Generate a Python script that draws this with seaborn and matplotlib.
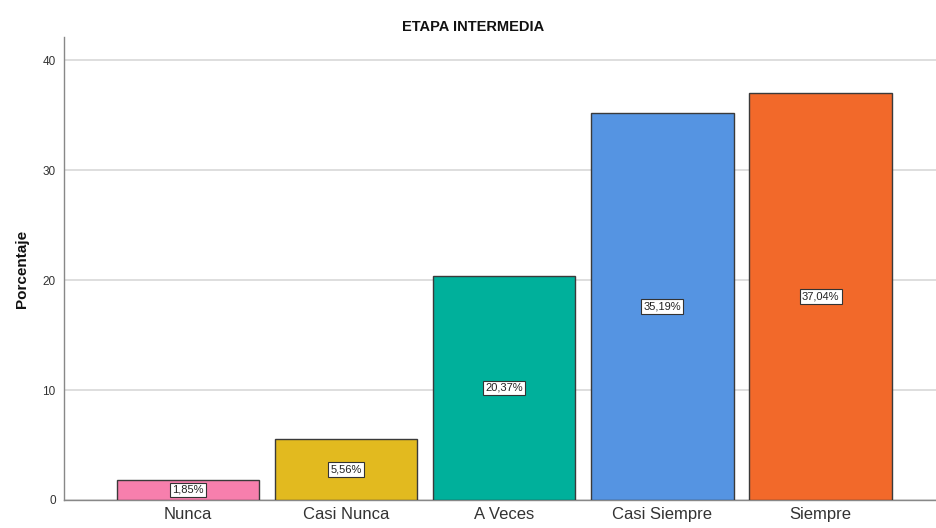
import matplotlib
matplotlib.use('Agg')
import matplotlib.pyplot as plt
import seaborn as sns
import pandas as pd

# ── Datos ─────────────────────────────────────────────────────────────────────
CATEGORIAS = ['Nunca', 'Casi Nunca', 'A Veces', 'Casi Siempre', 'Siempre']
PORCENTAJE = [1.85, 5.56, 20.37, 35.19, 37.04]
ETIQUETAS  = ['1,85%', '5,56%', '20,37%', '35,19%', '37,04%']
COLORES    = ['#F77FAD', '#E2BA1F', '#00B09B', '#5594E2', '#F2692A']

df = pd.DataFrame({'cat': CATEGORIAS, 'pct': PORCENTAJE})

sns.set_style('white')
plt.rcParams['font.family'] = ['Liberation Sans', 'DejaVu Sans']

fig = plt.figure(figsize=(9.36, 5.28), dpi=100)
ax = fig.add_axes([64 / 936, 28 / 528, 1 - 64 / 936, (500 - 37) / 528])

sns.barplot(data=df, x='cat', y='pct', hue='cat', palette=COLORES,
            order=CATEGORIAS, hue_order=CATEGORIAS, width=0.9, saturation=1,
            edgecolor='#3a3a3a', linewidth=1.0, legend=False, ax=ax, zorder=3)

for i, (v, lab) in enumerate(zip(PORCENTAJE, ETIQUETAS)):
    ax.text(i, v / 2, lab, ha='center', va='center', fontsize=8, color='#222222',
            zorder=5,
            bbox=dict(boxstyle='square,pad=0.2', fc='white', ec='#333333', lw=0.8))

ax.set_xlim(-0.785, 4.73)
ax.set_ylim(0, 42.1)
ax.set_yticks([0, 10, 20, 30, 40])
ax.yaxis.grid(True, color='#d8d8d8', linewidth=1.2, zorder=0)
ax.set_axisbelow(True)

for s in ['top', 'right']:
    ax.spines[s].set_visible(False)
for s in ['left', 'bottom']:
    ax.spines[s].set_color('#888888')
    ax.spines[s].set_linewidth(1.0)

ax.tick_params(axis='y', labelsize=8.5, labelcolor='#333333', length=0, pad=6)
ax.tick_params(axis='x', labelsize=12, labelcolor='#333333', length=0, pad=5)
ax.set_xlabel('')
ax.set_ylabel('Porcentaje', fontsize=11, fontweight='bold', color='#111111', labelpad=10)

fig.text(0.505, 0.948, 'ETAPA INTERMEDIA', ha='center', va='center',
         fontsize=10.5, fontweight='bold', color='#111111')

fig.savefig('out.png', dpi=100)
